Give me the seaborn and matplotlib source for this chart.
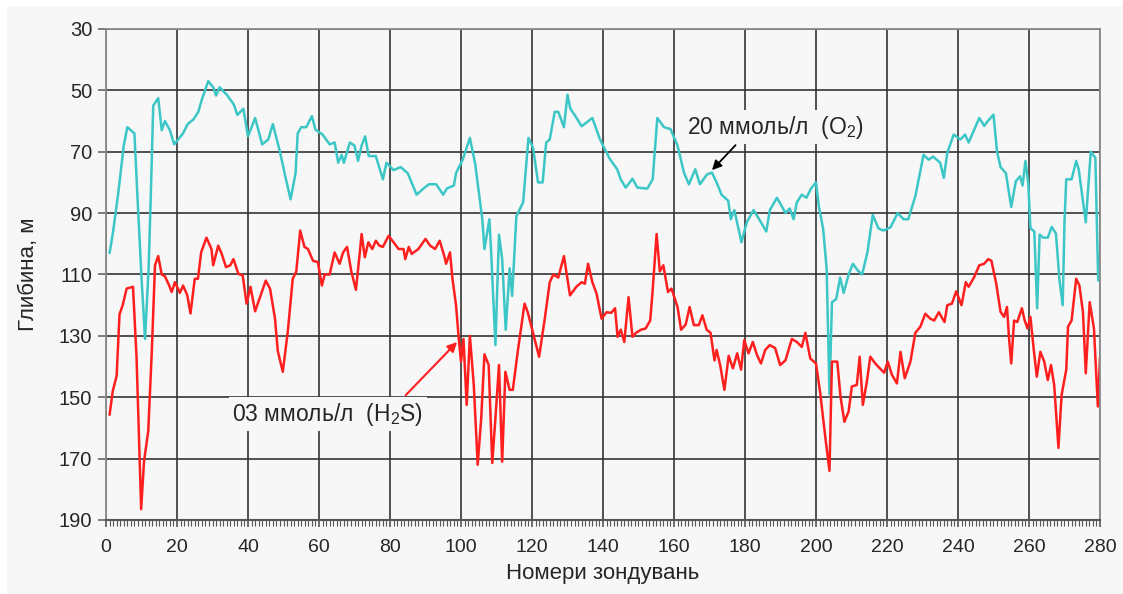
import numpy as np
import pandas as pd
import matplotlib
matplotlib.use("Agg")
import matplotlib.pyplot as plt
import seaborn as sns
from matplotlib.ticker import MultipleLocator

# -----------------------------
# Data (probe number, depth in m)
# -----------------------------
o2_x = [1, 2, 3.5, 5, 6, 7, 8, 9, 10, 11, 12, 12.6, 13.3, 14.7, 15.7, 16.6, 18, 19.2, 20,
        21.7, 23, 24.6, 26, 27, 28.8, 30.2, 31, 32, 34, 36, 37, 38.7, 40, 42, 44, 45.7, 47,
        49, 50.5, 52, 53.4, 54, 55, 56.4, 58, 59, 61, 63, 64.4, 65.4, 66.4, 67, 68.7, 70, 71,
        72, 73, 74, 76, 78, 79, 81, 83, 85, 87.5, 89.4, 91, 93, 95, 96, 98, 98.6, 100.5,
        102.5, 104, 106, 106.6, 108, 108.5, 109.7, 110.7, 111.6, 112.6, 113.7, 114.4, 115.6,
        117.5, 119, 120.3, 121.7, 123, 124, 125, 126.4, 127.4, 129, 130, 130.8, 132, 134, 137,
        139, 140, 142, 144, 145, 146.4, 148.3, 149.7, 152.5, 154, 155.3, 157.2, 159, 161,
        162.8, 164.2, 166, 167.3, 169.3, 170.7, 172, 173.4, 175.3, 176, 177, 179, 180.5, 182.4,
        184, 186, 187, 189, 190, 191.4, 192.6, 193.7, 194.6, 196, 197.3, 198.6, 200, 200.8,
        202, 203, 203.8, 204.5, 205.7, 206.8, 207.8, 209.2, 210.4, 211.7, 213, 214.5, 216,
        217.6, 219, 221, 223, 224.7, 226, 228, 230.3, 231.7, 233, 235, 236, 237, 238.8, 240.7,
        242, 243, 244.5, 246, 247.4, 248.4, 250, 251, 252, 253.5, 255, 256.3, 257.5, 258.2,
        259, 259.8, 260.4, 261.5, 262.3, 263, 264, 265.3, 266.4, 267.6, 268.6, 269.5, 270,
        270.5, 272, 273.3, 274, 276, 277.4, 278.7, 279.5, 280]
o2_depth = [103, 96, 83, 68, 62, 63, 64, 88, 111, 131, 108, 85, 55, 52.5, 63, 60, 63, 67.6, 66.5,
            64, 61, 59.5, 57, 53, 47, 49, 51.7, 49, 51.4, 54.6, 58, 56, 65, 59, 67.6, 66, 61,
            70, 78, 85.5, 77, 64, 62, 62, 58.4, 62.8, 64.4, 67.6, 67, 73.6, 71, 73.6, 67, 68, 73,
            68, 65, 71.4, 71.4, 79, 73.6, 76, 75, 77, 84, 82, 80.6, 80.6, 84, 82, 81, 77, 72.5,
            65.5, 74, 92, 101.7, 92, 102.8, 133, 97, 105, 128, 108, 117, 91,
            86.5, 65.5, 68.7, 80, 80, 67, 66, 57, 57, 62, 51.4, 56, 58, 61.7, 59,
            65.5, 68, 72.5, 75.7, 79, 81.7, 78.8, 81.7, 82, 79, 59, 62, 62.6, 68,
            76.8, 80.6, 75.7, 80.6, 77.4, 76.8, 80, 84, 86, 92, 89, 99.5, 93, 89,
            92, 96, 89, 85, 87, 90, 88.5, 92, 86.5, 84, 85, 82, 80, 87.8,
            95, 108, 149, 119, 118, 111, 116, 110, 106.5, 108.6, 110, 102.7, 90.6,
            95, 95.7, 94.6, 90, 92, 92, 84.4, 71, 72.6, 71.6, 73.6, 78.5, 70.3, 64.4, 66,
            64.4, 67, 63, 59, 61.6, 60, 57.9, 70, 75, 77, 88, 79.6, 78, 81,
            73, 80.3, 94.9, 96, 121, 97, 98, 98, 94.5, 96.7, 112, 120, 93,
            79, 79, 73, 75.7, 93, 70, 72, 112, 103]

h2s_x = [1, 1.9, 3, 3.8, 4.7, 5.8, 7.6, 8.6, 9.4, 9.9, 10.7, 11.9, 12.9, 13.8, 14.7, 15.7, 16.6,
         17.8, 18.5, 19.4, 20.8, 21.7, 22.9, 23.8, 25, 25.9, 26.8, 28.3, 29.7, 30.2, 31.6, 32.6,
         33.8, 35, 35.9, 37.3, 38.5, 39.6, 40.7, 42, 43.2, 45, 46.2, 47.6, 48.4, 49.8, 51.2,
         52.6, 53.6, 54.7, 55.9, 56.9, 58.3, 59.7, 60.8, 61.6, 63, 64.4, 65.8, 66.8, 67.9, 69.1,
         70.4, 71.5, 72, 72.9, 73.9, 75, 76, 77, 78, 79.6, 81, 82.4, 83.8, 84.3, 85.3, 86.1, 88,
         90, 91.3, 92.7, 94, 95.3, 95.8, 96.9, 97.6, 98.6, 99.3, 100, 100.7, 101.6, 102.5, 103.6,
         104.7, 105.7, 106.6, 107.8, 108.8, 109.7, 110.7, 111.6, 112.5, 113.7, 114.6, 116, 117.9,
         118.8, 120.5, 122, 123.6, 125, 126, 127.4, 129, 130.7, 132.5, 134, 134.9, 135.8, 137,
         138.2, 139.6, 141, 142.3, 143.4, 144.1, 145, 146, 147.2, 148.3, 149.3, 150.7, 152,
         153.3, 154, 155.1, 156, 157, 158.3, 159.3, 161, 162, 163.3, 164.4, 165.6, 167, 168,
         169.2, 170.3, 171.4, 172, 173, 174.2, 175.4, 176.6, 177.8, 178.9, 179.8, 181, 182.2,
         183.4, 184.5, 185.7, 187, 188.5, 189.9, 191.4, 193.2, 194.6, 196, 197, 198.4, 200,
         201.2, 202.6, 203.8, 204.5, 206, 206.9, 208, 209.2, 210.1, 211.5, 212.3, 213.2, 214.4,
         215.3, 216.7, 218, 219.2, 220.2, 221.4, 222.8, 223.8, 225, 226.6, 228, 229.4, 230.8,
         232.2, 233.3, 234.6, 236.2, 237, 238.3, 239.5, 241, 242.2, 243, 244.5, 246, 247.4,
         248.5, 249.4, 250.7, 252, 253, 253.8, 254.4, 255, 255.8, 256.7, 258, 258.8, 259.6,
         260.4, 261.3, 262.2, 263.2, 264.3, 265.3, 266.2, 267.1, 268.3, 269.2, 270.5, 271, 272,
         273.3, 274.2, 275.2, 276, 277.1, 278.3, 279.4, 280]
h2s_depth = [155.7, 148, 143, 123, 120, 114.6, 114, 137, 167.6, 186.5, 171, 161, 135, 107, 104,
             110, 110.6, 113.6, 115.7, 112.5, 116, 113.6, 116.8, 122.7, 111.4, 111.4, 102.8, 98,
             101.7, 107, 100.6, 103.3, 107.6, 107, 105, 109.8, 110.3, 119.5, 114, 122, 118, 112,
             114.6, 124.4, 135, 141.7, 128.7, 111.4, 109, 95.7, 101, 101.7, 105.5, 106, 113.6,
             110, 110, 102.8, 106.5, 102.8, 101, 109, 115, 102.8, 96.8, 104.4, 99.5, 101.7, 99,
             100.6, 101, 97.4, 99.5, 101.7, 101.7, 105, 101, 103.3, 101.7, 98.4, 100.6, 101.7,
             99, 104, 106.5, 102.8, 111.4, 120, 130, 138.4, 131, 152.5, 130, 146, 172, 156.8,
             136, 139.5, 171.4, 156.8, 139.5, 171, 141.7, 147.6, 147.6, 135, 119.5, 122.3, 130,
             136.8, 124.4, 112.5, 110, 111, 104, 116.8, 114, 112.5, 113, 106.5, 112.5, 116.3,
             124.4, 122.3, 122.5, 121, 130.3, 128, 132, 117.4, 130.3, 129, 128, 127.6, 125, 115,
             96.8, 109, 107, 115.7, 114.6, 120.6, 128, 126.3, 120.6, 126.5, 126.5, 123.3, 128,
             129, 138, 134.6, 139.5, 147.6, 136.5, 140.6, 135.7, 141, 131.4, 135.7, 132, 136.3,
             139, 134.6, 133, 134, 139.5, 138, 131, 132, 133.6, 129, 137.4, 139, 148.7, 162.8,
             174, 138.4, 138.4, 149.8, 158, 154.6, 146.5, 146, 136.8, 152.5, 144.4, 136.8, 139,
             140.6, 142, 138.4, 142.7, 145.5, 135.2, 143.8, 138.4, 129, 127, 122.8, 124.4, 125,
             122.3, 125.5, 120, 119.5, 115.5, 120, 112.5, 114, 111, 107, 106.5, 105, 105.5,
             112.5, 122.2, 123.8, 120.6, 131, 139, 125, 125.5, 121, 125, 127.6, 123.8, 134,
             143.3, 135.2, 138.4, 144.4, 139.5, 146, 166.5, 149.2, 141, 127, 125, 111.4, 113.6,
             122.2, 142.2, 119, 127.6, 153, 137]

x_ticks = list(range(0, 281, 20))
y_ticks = list(range(30, 191, 20))

o2_df = pd.DataFrame({"probe": o2_x, "depth": o2_depth})
h2s_df = pd.DataFrame({"probe": h2s_x, "depth": h2s_depth})

# -----------------------------
# Style
# -----------------------------
sns.set_style("white")
plt.rcParams["font.family"] = ["Liberation Sans", "DejaVu Sans"]
plt.rcParams["mathtext.default"] = "regular"

bg = "#f7f7f7"
fig = plt.figure(figsize=(11.23, 5.94), dpi=100, facecolor="white")
fig.patches.append(plt.Rectangle((0.006, 0.0), 0.994, 0.99, transform=fig.transFigure,
                                 facecolor=bg, edgecolor="none", zorder=-10))
ax = fig.add_axes([0.0944, 0.1246, 0.8851, 0.8266])
ax.set_facecolor(bg)

sns.lineplot(data=o2_df, x="probe", y="depth", ax=ax, sort=False, estimator=None,
             color="#3cc6c6", linewidth=1.8)
sns.lineplot(data=h2s_df, x="probe", y="depth", ax=ax, sort=False, estimator=None,
             color="#ff1f1f", linewidth=1.8)

ax.set_xlim(0, 280)
ax.set_ylim(190, 30)
ax.set_xticks(x_ticks)
ax.set_yticks(y_ticks)
ax.xaxis.set_minor_locator(MultipleLocator(1))
ax.grid(True, which="major", color="#333333", linewidth=1.4, alpha=0.85)
ax.set_axisbelow(True)
for side in ["top", "right", "left"]:
    ax.spines[side].set_color("#8a8a8a")
    ax.spines[side].set_linewidth(1.3)
ax.spines["bottom"].set_color("#555555")
ax.spines["bottom"].set_linewidth(1.5)

ax.tick_params(axis="y", which="major", direction="out", length=6, width=1.2,
               color="#666666", labelsize=14.5, pad=4, left=True)
ax.tick_params(axis="x", which="major", direction="out", length=5, width=1.2,
               color="#555555", labelsize=14, pad=9, bottom=True)
ax.tick_params(axis="x", which="minor", direction="out", length=4, width=0.8,
               color="#555555", bottom=True)

ax.set_xlabel("Номери зондувань", fontsize=16, labelpad=5)
ax.set_ylabel("Глибина, м", fontsize=16, labelpad=14)

# -----------------------------
# Annotations
# -----------------------------
ax.annotate("20 ммоль/л  (O$_2$)", xy=(170.7, 76), xytext=(188.5, 62),
            fontsize=16.5, ha="center", va="center",
            bbox=dict(boxstyle="square,pad=0.15", facecolor=bg, edgecolor="none"),
            arrowprops=dict(arrowstyle="-|>", color="black", lw=1.3,
                            shrinkA=1, shrinkB=0, mutation_scale=14,
                            relpos=(0.3, 0.0)))
ax.annotate("03 ммоль/л  (H$_2$S)", xy=(98.9, 132), xytext=(62.5, 155.5),
            fontsize=16.5, ha="center", va="center",
            bbox=dict(boxstyle="square,pad=0.15", facecolor=bg, edgecolor="none"),
            arrowprops=dict(arrowstyle="-|>", color="#ff1f1f", lw=1.5,
                            shrinkA=2, shrinkB=0, mutation_scale=14,
                            relpos=(0.88, 1.0)))

fig.savefig("out.png", dpi=100, facecolor="white")
